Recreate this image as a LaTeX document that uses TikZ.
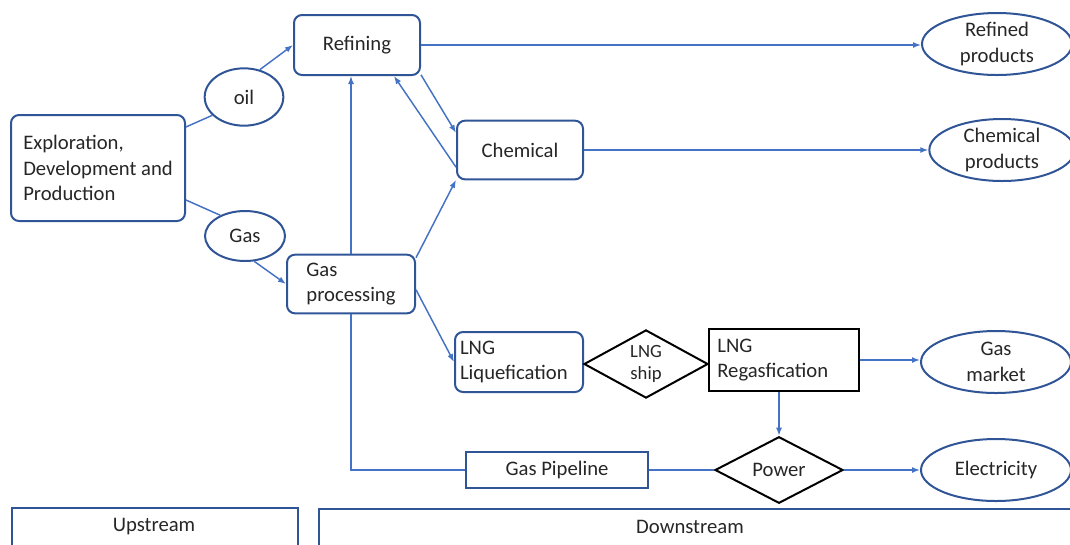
\documentclass[tikz,border=0pt]{standalone}
\usepackage{fontspec}
\setmainfont{Carlito}
\usetikzlibrary{shapes.geometric,arrows.meta}
\usetikzlibrary{calc}

\definecolor{boxblue}{HTML}{2F5597}
\definecolor{lineblue}{HTML}{4472C4}

\begin{document}
\begin{tikzpicture}[x=0.75pt,y=-0.75pt,
	font=\fontsize{15.5}{19}\selectfont, text=black!85,
	stage/.style={draw=boxblue, line width=1.5pt, rounded corners=6pt, align=left, inner sep=0pt},
	plain/.style={draw=boxblue, line width=1.5pt, inner sep=0pt},
	prod/.style={ellipse, draw=boxblue, line width=1.5pt, inner sep=0pt, align=center},
	hub/.style={diamond, draw=black, line width=1.5pt, inner sep=0pt, align=center},
	flow/.style={lineblue, line width=1.1pt},
	>={Latex[length=6pt,width=4.5pt]}]
\path[use as bounding box, clip] (0,0) rectangle (1070,544);

% upstream
\node[stage, minimum width=130.5pt, minimum height=79.5pt] (expl) at (98,168) {Exploration,\\Development and\\Production};
\node[prod, minimum width=59pt, minimum height=43pt] (oil) at (244,97) {oil};
\node[prod, minimum width=60pt, minimum height=37.5pt] (gas) at (245,236) {Gas};

% downstream
\node[stage, minimum width=94.5pt, minimum height=45pt, align=center] (ref) at (357,45) {Refining};
\node[stage, minimum width=96pt, minimum height=44pt] (gproc) at (351,284) {Gas\\processing};
\node[stage, minimum width=94.5pt, minimum height=44pt, align=center] (chem) at (520,150) {Chemical};
\node[stage, minimum width=96pt, minimum height=45pt, text width=88.5pt] (liq) at (519,362) {LNG\\Liquefication};
\node[hub, minimum width=93pt, minimum height=43.5pt, font=\fontsize{14}{16}\selectfont] (ship) at (646,364) {LNG\\ship};
\node[draw=black, line width=1.5pt, inner sep=0pt, minimum width=112pt, minimum height=46pt, text width=100pt, align=left] (regas) at (784,360) {LNG\\Regasfication};
\node[plain, minimum width=136.5pt, minimum height=27pt] (pipe) at (557,470) {Gas Pipeline};
\node[hub, minimum width=96pt, minimum height=40.5pt] (power) at (779,470) {Power};

% products
\node[prod, minimum width=112.5pt, minimum height=46.5pt] (refprod) at (997,44) {Refined\\products};
\node[prod, minimum width=109pt, minimum height=46.5pt] (chemprod) at (1002,150) {Chemical\\products};
\node[prod, minimum width=112.5pt, minimum height=46.5pt] (market) at (996,362) {Gas\\market};
\node[prod, minimum width=112.5pt, minimum height=46.5pt] (elec) at (996,470) {Electricity};

% stream boxes
\node[plain, line width=1.2pt, anchor=north west, minimum width=214.5pt, minimum height=36pt] (up) at (11,507) {};
\node (uplbl) at (154,527) {Upstream};
\node[plain, line width=1.2pt, anchor=north west, minimum width=600pt, minimum height=36pt] (down) at (318,508) {};
\node (downlbl) at (690,527) {Downstream};

\path[flow]
(expl.25) edge (oil.210)
(expl.-20) edge (gas.140)
(pipe.east) edge (power.west);
\draw[flow] (gproc.south) |- (pipe.west);

\path[->, flow]
(oil.60) edge (ref.west)
(gas.-70) edge (gproc.west)
(gproc.north) edge (gproc.north |- ref.south)
(ref.-25) edge (chem.165)
(chem.195) edge (ref.-40)
(gproc.22) edge (chem.205)
(gproc.-5) edge (liq.west)
(ref.east) edge (ref.east -| refprod.west)
(chem.east) edge (chem.east -| chemprod.west)
(power.north |- regas.south) edge (power.north)
(regas.east) edge (regas.east -| market.west)
(power.east) edge (elec.west);
\end{tikzpicture}
\end{document}
